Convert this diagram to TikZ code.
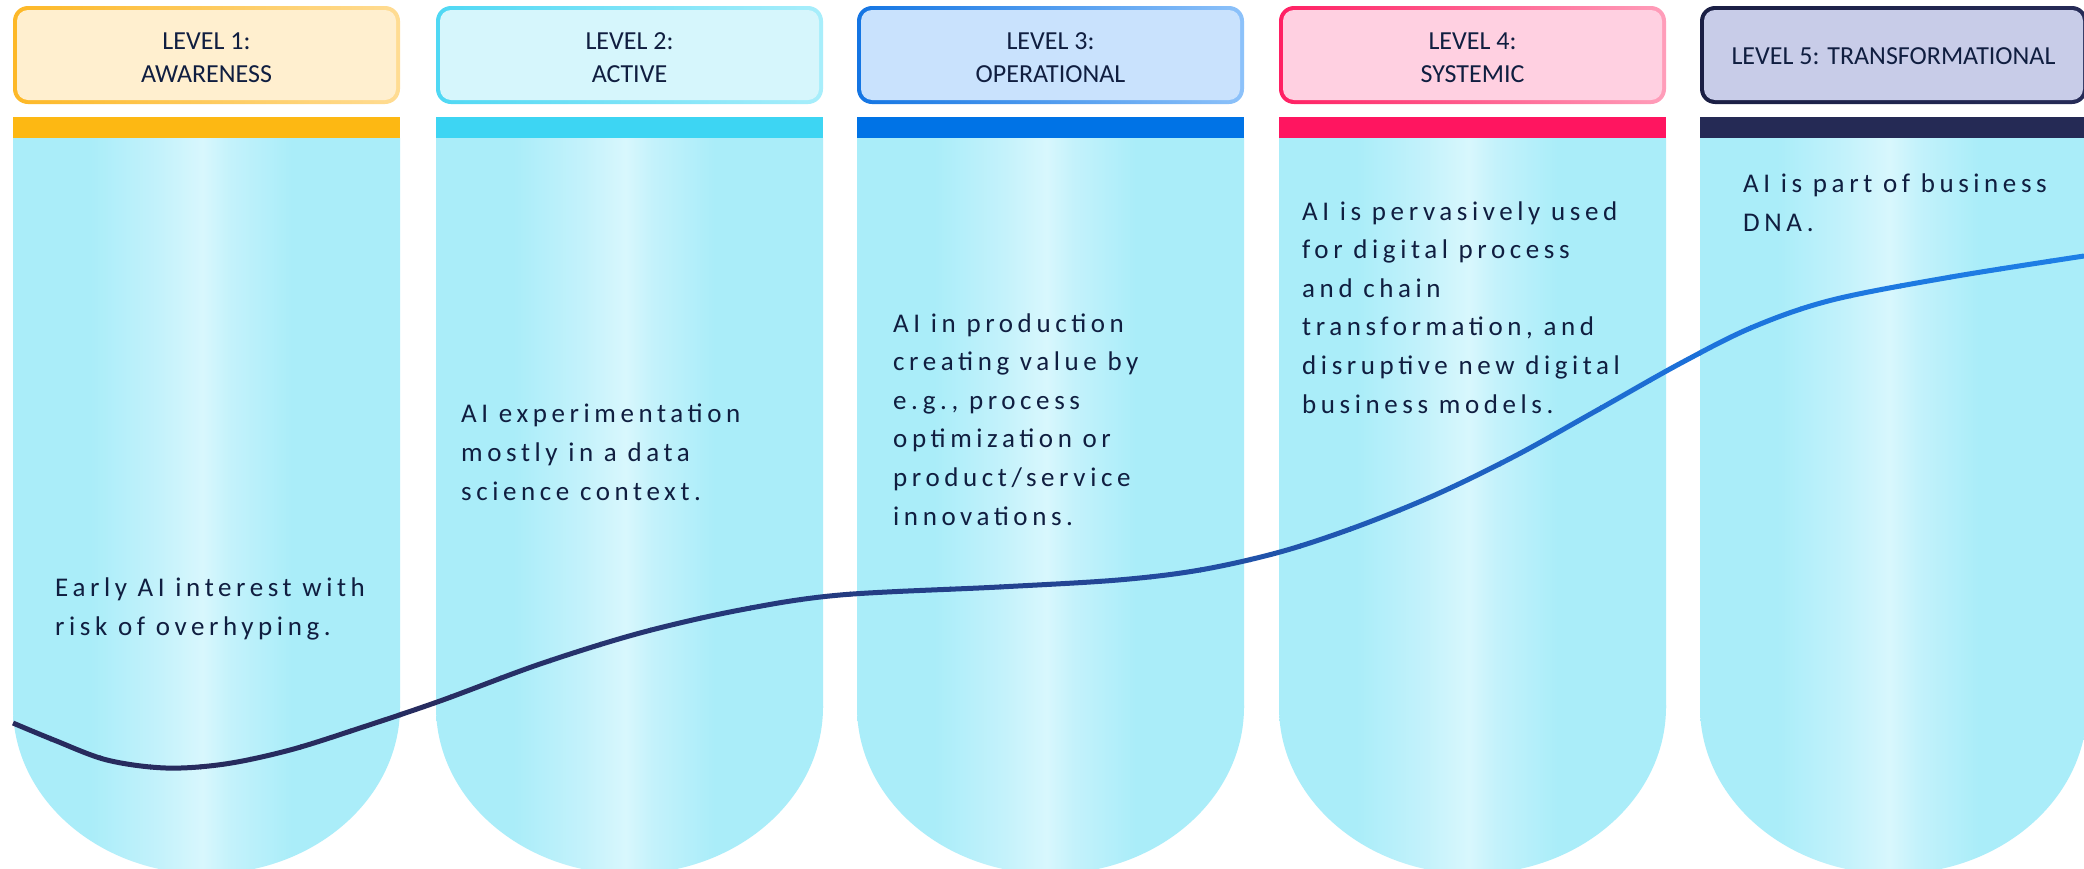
\documentclass[tikz,border=0pt]{standalone}
\usepackage{fontspec}
\setmainfont{Carlito}
\newfontfamily\bodyfont[LetterSpace=17]{Carlito}
\definecolor{cedge}{HTML}{AAEDF9}
\definecolor{cmid}{HTML}{C4F2FB}
\definecolor{clight}{HTML}{D8F7FD}
\definecolor{ctext}{HTML}{101E40}
\definecolor{barA}{HTML}{FDB813}
\definecolor{barB}{HTML}{3DD5F3}
\definecolor{barC}{HTML}{0073E6}
\definecolor{barD}{HTML}{FF1560}
\definecolor{barE}{HTML}{252A55}
\definecolor{fillA}{HTML}{FFEFCF}
\definecolor{fillB}{HTML}{D6F6FC}
\definecolor{fillC}{HTML}{C9E2FD}
\definecolor{fillD}{HTML}{FFD0E1}
\definecolor{fillE}{HTML}{C8CCE8}
\definecolor{blA}{HTML}{FDB827}
\definecolor{brA}{HTML}{FFDC93}
\definecolor{blB}{HTML}{4FD8F4}
\definecolor{brB}{HTML}{A8EEFB}
\definecolor{blC}{HTML}{1475E3}
\definecolor{brC}{HTML}{8DC2FA}
\definecolor{blD}{HTML}{FF1F63}
\definecolor{brD}{HTML}{FF9EBA}
\definecolor{blE}{HTML}{1B1F44}
\definecolor{brE}{HTML}{262B57}
\definecolor{cvA}{HTML}{272B5E}
\definecolor{cvB}{HTML}{234696}
\definecolor{cvC}{HTML}{1C72DB}
\definecolor{cvD}{HTML}{1E7FE6}
\pgfdeclarehorizontalshading{colbody}{100bp}{color(0bp)=(cedge); color(25bp)=(cedge); color(35bp)=(cedge); color(44bp)=(cmid); color(49.5bp)=(clight); color(53bp)=(cmid); color(61bp)=(cedge); color(75bp)=(cedge); color(100bp)=(cedge)}
\tikzset{
  bodyshade/.style={shading=colbody},
  headtext/.style={font=\fontsize{26}{33}\selectfont, text=ctext, align=center, inner sep=0pt, anchor=base},
  bodytext/.style={font=\bodyfont\fontsize{27}{38.6}\selectfont, text=ctext, align=left, inner sep=0pt, anchor=base west},
  curveline/.style={line width=5pt, line join=round}
}
\def\curvepath{plot[smooth, tension=0.55] coordinates {(13,723) (54,740) (107,760) (166,768) (225,764) (290,750) (360,728) (440,701) (540,664) (640,633) (740,610) (840,595) (999,587) (1118,580) (1200,570) (1280,552) (1356,527) (1435,495) (1515,456) (1594,412) (1681,363) (1753,327) (1832,300) (1951,277) (2084,256)}}
\begin{document}
\begin{tikzpicture}[x=1pt, y=-1pt]
\useasboundingbox (0,0) rectangle (2084,868);
\fill[white] (0,0) rectangle (2084,868);
\foreach \x/\bar/\fc/\bl/\br/\ty/\txt [count=\i] in {
  13/barA/fillA/blA/brA/82/{LEVEL 1:\\AWARENESS},
  436/barB/fillB/blB/brB/82/{LEVEL 2:\\ACTIVE},
  857/barC/fillC/blC/brC/82/{LEVEL 3:\\OPERATIONAL},
  1279/barD/fillD/blD/brD/82/{LEVEL 4:\\SYSTEMIC},
  1700/barE/fillE/blE/brE/64.5/{LEVEL 5: TRANSFORMATIONAL}} {
  \shade[bodyshade] (\x,138) rectangle (\x+387,707);
  \shade[bodyshade] (\x+193.5,707) ellipse[x radius=193.5, y radius=167];
  \fill[\bar] (\x,117) rectangle (\x+387,138);
  \shade[left color=\bl, right color=\br, rounded corners=15pt] (\x,6) rectangle (\x+387,104);
  \fill[\fc, rounded corners=11pt] (\x+4,10) rectangle (\x+383,100);
  \node[headtext] (h\i) at (\x+193.5,\ty) {\txt};
}
\node[bodytext] (t1) at (55,635) {Early AI interest with\\risk of overhyping.};
\node[bodytext] (t2) at (461,500) {AI experimentation\\mostly in a data\\science context.};
\node[bodytext] (t3) at (893,525) {AI in production\\creating value by\\e.g., process\\optimization or\\product/service\\innovations.};
\node[bodytext] (t4) at (1302,413) {AI is pervasively used\\for digital process\\and chain\\transformation, and\\disruptive new digital\\business models.};
\node[bodytext] (t5) at (1743,231) {AI is part of business\\DNA.};
\foreach \i in {0,...,41} {
  \pgfmathsetmacro\xa{\i*50}
  \pgfmathsetmacro\xb{\xa+51}
  \pgfmathsetmacro\xm{\xa+25}
  \pgfmathsetmacro\pa{min(max((\xm-400)/700,0),1)*100}
  \pgfmathsetmacro\pb{min(max((\xm-1100)/600,0),1)*100}
  \pgfmathsetmacro\pc{min(max((\xm-1700)/384,0),1)*100}
  \colorlet{tmpa}{cvB!\pa!cvA}
  \colorlet{tmpb}{cvC!\pb!tmpa}
  \colorlet{tmpc}{cvD!\pc!tmpb}
  \begin{scope}
    \clip (\xa,0) rectangle (\xb,868);
    \draw[curveline, tmpc] \curvepath;
  \end{scope}
}
\end{tikzpicture}
\end{document}
